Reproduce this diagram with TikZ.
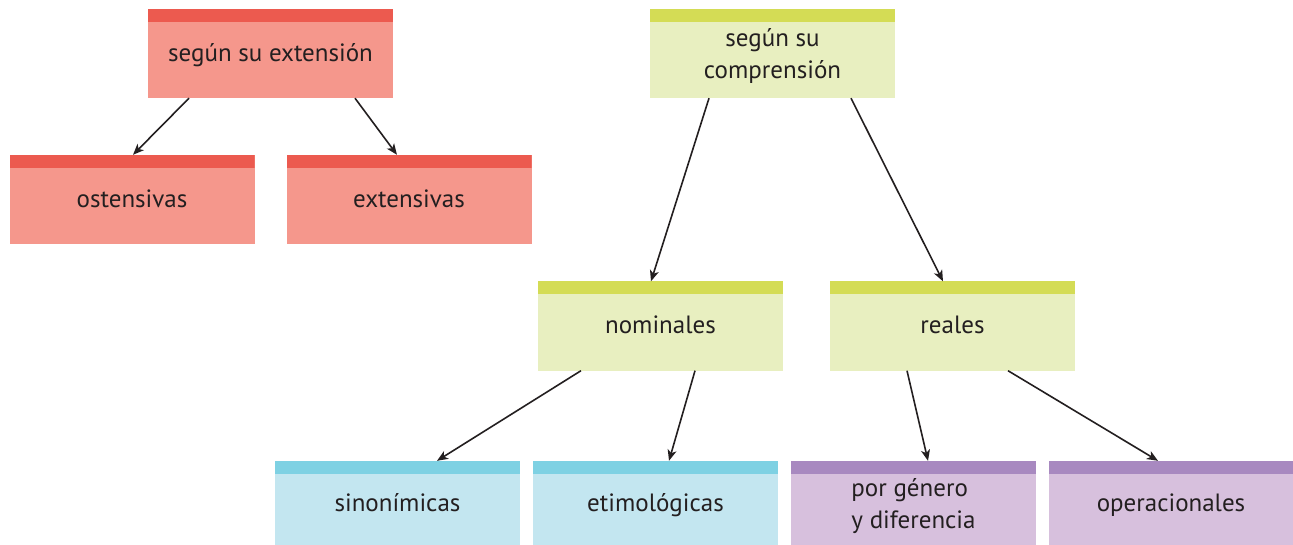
\documentclass[tikz,border=0pt]{standalone}
\usepackage{fontspec}
\setmainfont{PT Sans}
\usetikzlibrary{arrows.meta}

\definecolor{redtop}{HTML}{EC5A4F}
\definecolor{redbox}{HTML}{F5978C}
\definecolor{greentop}{HTML}{D4DC55}
\definecolor{greenbox}{HTML}{E8EFC0}
\definecolor{bluetop}{HTML}{7ED1E3}
\definecolor{bluebox}{HTML}{C3E6F0}
\definecolor{violettop}{HTML}{A889C0}
\definecolor{violetbox}{HTML}{D7C0DD}
\definecolor{ink}{HTML}{231F20}

\tikzset{
 tag/.style n args={2}{rectangle, fill=#2, minimum width=245pt, minimum height=89pt,
   inner sep=0, text=ink, align=center, font=\fontsize{25}{32}\selectfont,
   text height=20pt, text depth=4pt,
   path picture={\fill[#1] (path picture bounding box.north west)
     rectangle ([yshift=-13pt]path picture bounding box.north east);}},
 twoline/.style={text height=, text depth=0pt},
 redtag/.style={tag={redtop}{redbox}},
 greentag/.style={tag={greentop}{greenbox}},
 bluetag/.style={tag={bluetop}{bluebox}, minimum height=84pt},
 violettag/.style={tag={violettop}{violetbox}, minimum height=84pt},
 link/.style={ink, line width=1.6pt, -{Stealth[length=11pt,width=9pt,inset=3pt]}}
}

\begin{document}
\begin{tikzpicture}[x=1pt, y=-1pt]
\useasboundingbox (0,0) rectangle (1293,545);
% extension
\node[redtag] (ext) at (270.5,53.5) {según su extensión};
\node[redtag] (ost) at (132,199.5) {ostensivas};
\node[redtag] (exs) at (409,199.5) {extensivas};
% comprension
\node[greentag, twoline] (comp) at (772.5,53.5) {según su\\comprensión};
\node[greentag] (nom) at (660.5,326) {nominales};
\node[greentag] (real) at (952.5,326) {reales};
\node[bluetag] (sin) at (397.5,503) {sinonímicas};
\node[bluetag] (eti) at (655.5,503) {etimológicas};
\node[violettag, twoline, align=left] (gen) at (913.5,503) {por género\\y diferencia};
\node[violettag] (ope) at (1171,503) {operacionales};

\draw[link] ([xshift=-81.5]ext.south) -- ([xshift=1]ost.north);
\draw[link] ([xshift=84.5]ext.south) -- ([xshift=-12]exs.north);
\draw[link] ([xshift=-63.5]comp.south) -- ([xshift=-9.5]nom.north);
\draw[link] ([xshift=78.5]comp.south) -- ([xshift=-9.5]real.north);
\draw[link] ([xshift=-79.5]nom.south) -- ([xshift=39.5]sin.north);
\draw[link] ([xshift=34.5]nom.south) -- ([xshift=13.5]eti.north);
\draw[link] ([xshift=-45.5]real.south) -- ([xshift=14.5]gen.north);
\draw[link] ([xshift=55.5]real.south) -- ([xshift=-13]ope.north);
\end{tikzpicture}
\end{document}
